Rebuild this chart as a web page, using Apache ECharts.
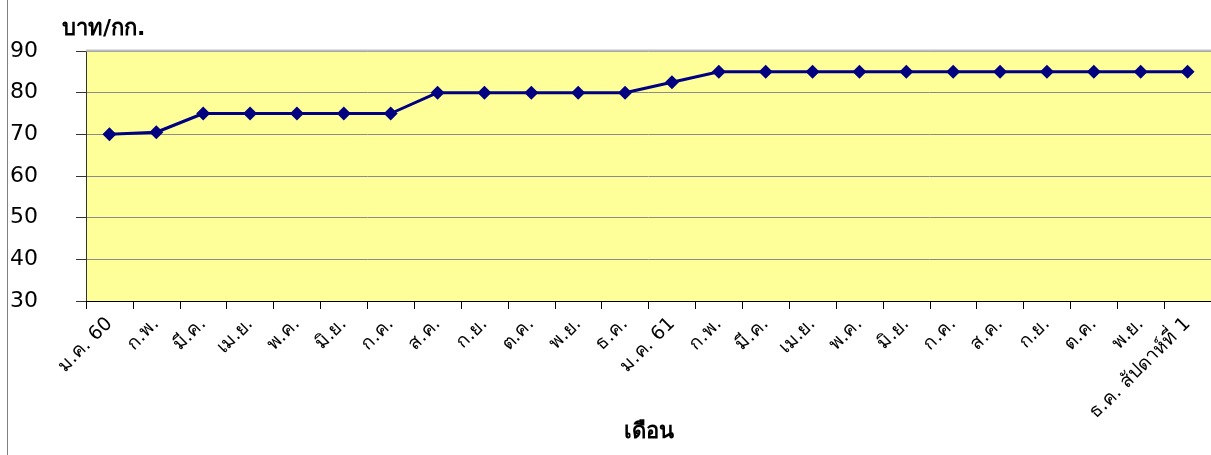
<!DOCTYPE html>
<html>
<head>
<meta charset="utf-8">
<script src="https://cdn.jsdelivr.net/npm/echarts@6/dist/echarts.min.js"></script>
<style>
  html, body { margin: 0; padding: 0; background: #fff; }
  #chart { width: 1211px; height: 455px; }
</style>
</head>
<body>
<div id="chart"></div>
<script>
// เดือน (แกน x)
const months = ['ม.ค. 60', 'ก.พ.', 'มี.ค.', 'เม.ย.', 'พ.ค.', 'มิ.ย.', 'ก.ค.', 'ส.ค.', 'ก.ย.', 'ต.ค.', 'พ.ย.', 'ธ.ค.',
  'ม.ค. 61', 'ก.พ.', 'มี.ค.', 'เม.ย.', 'พ.ค.', 'มิ.ย.', 'ก.ค.', 'ส.ค.', 'ก.ย.', 'ต.ค.', 'พ.ย.', 'ธ.ค. สัปดาห์ที่ 1'];
// ราคา บาท/กก.
const prices = [70, 70.5, 75, 75, 75, 75, 75, 80, 80, 80, 80, 80,
  82.5, 85, 85, 85, 85, 85, 85, 85, 85, 85, 85, 85];
const yMin = 30, yMax = 90, yStep = 10;

const font = 'Tahoma, "DejaVu Sans", sans-serif';
const chart = echarts.init(document.getElementById('chart'));

chart.setOption({
  animation: false,
  textStyle: { fontFamily: font },
  grid: {
    left: 86, right: -11, top: 51, bottom: 154,
    show: true, backgroundColor: '#FFFF99', borderWidth: 0
  },
  graphic: [
    { type: 'line', shape: { x1: 7.5, y1: 0, x2: 7.5, y2: 455 }, style: { stroke: '#808080', lineWidth: 1 } },
    { type: 'line', shape: { x1: 86, y1: 50.5, x2: 1211, y2: 50.5 }, style: { stroke: '#C0C0C0', lineWidth: 2 }, z: 5 }
  ],
  xAxis: {
    type: 'category',
    data: months,
    boundaryGap: true,
    name: 'เดือน',
    nameLocation: 'middle',
    nameGap: 120,
    nameMoveOverlap: false,
    nameTextStyle: { fontSize: 22, fontWeight: 'bold', color: '#000' },
    axisLine: { lineStyle: { color: '#000', width: 1 } },
    axisTick: { show: true, length: 8, lineStyle: { color: '#000' } },
    axisLabel: { interval: 0, rotate: 45, margin: 20, fontSize: 19, color: '#000' },
    splitLine: { show: false }
  },
  yAxis: {
    type: 'value',
    min: yMin, max: yMax, interval: yStep,
    name: 'บาท/กก.',
    nameLocation: 'end',
    nameGap: 11,
    nameTextStyle: { fontSize: 22, fontWeight: 'bold', color: '#000', align: 'left', padding: [0, 0, 0, -24] },
    axisLine: { show: true, lineStyle: { color: '#333', width: 1 } },
    axisTick: { show: true, length: 10, lineStyle: { color: '#333' } },
    axisLabel: { align: 'left', margin: 76, fontSize: 22, color: '#000', padding: [0, 0, 4, 0] },
    splitLine: { lineStyle: { color: '#8c8c8c', width: 1 } }
  },
  series: [{
    type: 'line',
    data: prices,
    symbol: 'diamond',
    symbolSize: 14,
    lineStyle: { color: '#000080', width: 3 },
    itemStyle: { color: '#000080' }
  }]
});
</script>
</body>
</html>
